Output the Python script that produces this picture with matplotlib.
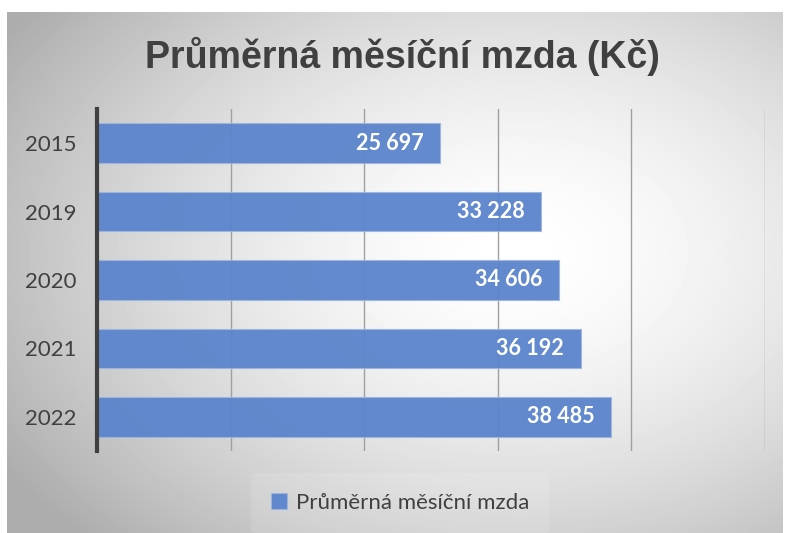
import numpy as np
import matplotlib.pyplot as plt

years = ["2015", "2019", "2020", "2021", "2022"]
wages = [25697, 33228, 34606, 36192, 38485]
labels = ["25 697", "33 228", "34 606", "36 192", "38 485"]
title = "Průměrná měsíční mzda (Kč)"
series = "Průměrná měsíční mzda"

W, H = 785, 533
fig = plt.figure(figsize=(W / 100, H / 100), dpi=100)
fig.patch.set_facecolor("white")

# radial gray background panel
bg = fig.add_axes([7 / W, 0, 776 / W, 521 / H])
yy, xx = np.mgrid[0:521, 0:776]
r = np.hypot((xx - 510) / 500.0, (yy - 240) / 340.0)
shade = 1 - 0.24 * np.clip(r, 0, 1.2) ** 1.6
bg.imshow(shade, cmap="gray", vmin=0, vmax=1, aspect="auto", interpolation="bilinear")
bg.axis("off")

ax = fig.add_axes([97 / W, 1 - 451 / H, 668 / W, 342 / H])
ax.patch.set_alpha(0)
ypos = np.arange(len(years))
bars = ax.barh(ypos, wages, height=0.58, color="#5b84cc", alpha=0.95,
               edgecolor="#9db5e0", linewidth=0.8, label=series, zorder=3)
ax.set_xlim(0, 50000)
ax.set_ylim(len(years) - 0.5, -0.5)
ax.set_xticks(np.arange(0, 50001, 10000))
ax.set_xticklabels([])
ax.set_yticks(ypos)
ax.set_yticklabels(years, family="Lato", fontsize=16, color="#404040")
ax.tick_params(length=0, pad=15)
ax.grid(axis="x", color="#a0a0a0", linewidth=1, zorder=1)
for s in ["top", "right", "bottom"]:
    ax.spines[s].set_visible(False)
ax.spines["left"].set_color("#404040")
ax.spines["left"].set_linewidth(3)
ax.spines["left"].set_zorder(4)

for b, lab in zip(bars, labels):
    ax.annotate(lab, (b.get_width(), b.get_y() + b.get_height() / 2),
                xytext=(-12, 0), textcoords="offset points",
                ha="right", va="center", color="white",
                family="Lato", fontweight="bold", fontsize=15.5, zorder=5)

fig.text(0.513, 1 - 56 / H, title, ha="center", va="center",
         family="Liberation Sans", fontweight="bold", fontsize=27, color="#404040")

leg = fig.legend(loc="center", bbox_to_anchor=(0.51, 1 - 503 / H),
                 frameon=True, prop={"family": "Lato", "size": 16},
                 handlelength=0.7, handleheight=0.7, handletextpad=0.4,
                 borderpad=0.9)
leg.get_frame().set_facecolor("white")
leg.get_frame().set_alpha(0.12)
leg.get_frame().set_edgecolor("none")
for t in leg.get_texts():
    t.set_color("#404040")

fig.savefig("out.png", dpi=100)
